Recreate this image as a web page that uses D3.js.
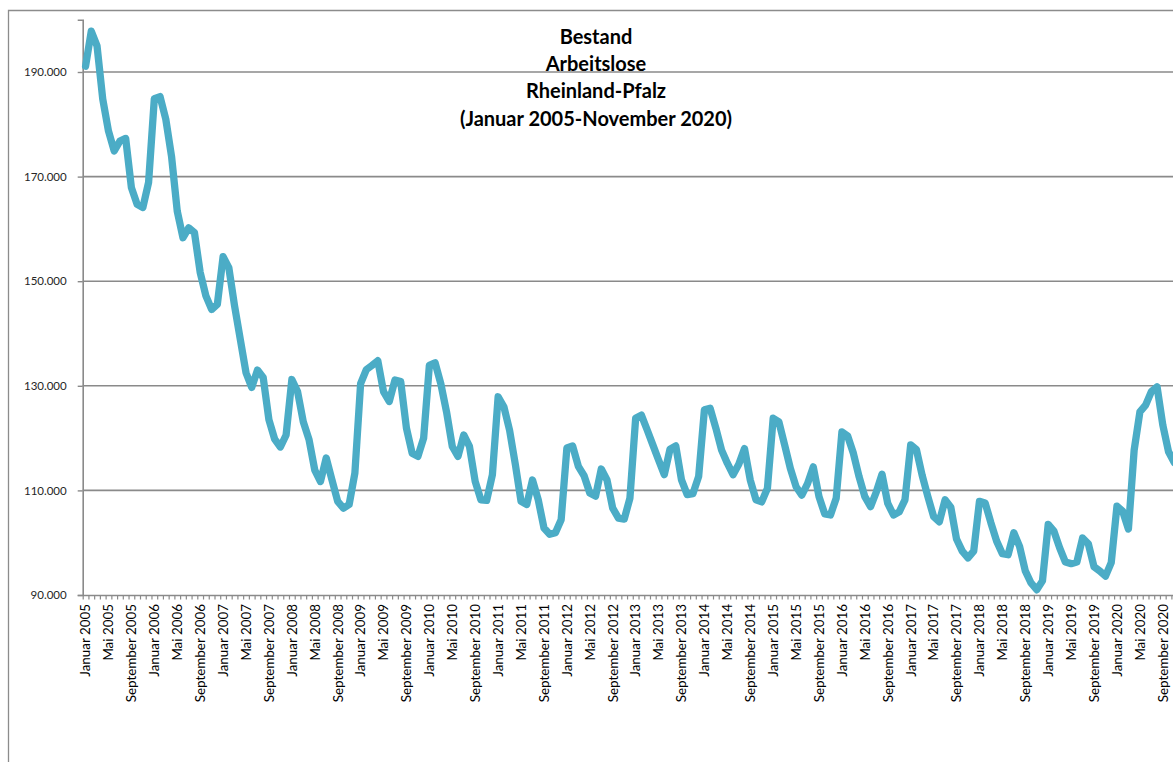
<!DOCTYPE html>
<html lang="de">
<head>
<meta charset="utf-8">
<title>Bestand Arbeitslose Rheinland-Pfalz</title>
<script src="https://cdn.jsdelivr.net/npm/d3@7"></script>
<style>
  html, body { margin: 0; padding: 0; background: #fff; }
  svg { display: block; }
</style>
</head>
<body>
<svg id="chart" width="1173" height="762"></svg>
<script>
// Monatsnamen und Jahre der Kategorienachse
const monatsnamen = ["Januar", "Februar", "März", "April", "Mai", "Juni",
  "Juli", "August", "September", "Oktober", "November", "Dezember"];
const jahre = [2005, 2006, 2007, 2008, 2009, 2010, 2011, 2012,
  2013, 2014, 2015, 2016, 2017, 2018, 2019, 2020];

// Bestand an Arbeitslosen je Monat (Januar 2005 – November 2020)
const bestand = [
  191100, 197800, 195000, 184800, 178700, 174900, 176800, 177300, 167900, 164700, 164100, 168900,
  184900, 185300, 181000, 173900, 163400, 158300, 160200, 159300, 151700, 147200, 144600, 145600,
  154700, 152600, 145300, 138900, 132500, 129700, 133000, 131600, 123500, 119800, 118300, 120600,
  131200, 128900, 123100, 119700, 113900, 111700, 116200, 112000, 107900, 106600, 107300, 113300,
  130400, 133100, 133900, 134800, 128900, 127000, 131100, 130800, 121900, 117100, 116500, 120000,
  133900, 134400, 130400, 125000, 118400, 116500, 120600, 118400, 111700, 108200, 108100, 113000,
  127900, 126000, 121500, 115000, 107900, 107300, 112000, 108200, 102800, 101600, 101900, 104400,
  118100, 118500, 114600, 112800, 109500, 108900, 114100, 112000, 106600, 104700, 104500, 108500,
  123800, 124400, 121600, 118700, 115800, 113000, 117900, 118500, 112000, 109200, 109400, 112700,
  125400, 125700, 121900, 117700, 115200, 113000, 115000, 118000, 112000, 108200, 107800, 110400,
  123800, 123100, 118700, 114200, 110700, 109100, 111300, 114500, 108800, 105500, 105300, 108500,
  121200, 120400, 117100, 112600, 108800, 106900, 109700, 113100, 107500, 105300, 105900, 108200,
  118700, 117800, 112900, 108800, 105000, 104000, 108200, 106800, 100700, 98400, 97100, 98400,
  107900, 107600, 103800, 100300, 97900, 97700, 101900, 99300, 94600, 92300, 91000, 92700,
  103500, 102200, 99000, 96300, 96000, 96300, 100900, 99800, 95400, 94600, 93600, 96200,
  107000, 106000, 102600, 117700, 125000, 126300, 128900, 129800, 122500, 117400, 115300
];

const yTicks = [90000, 110000, 130000, 150000, 170000, 190000];
const yDomain = [90000, 200000];

const titelZeilen = ["Bestand", "Arbeitslose", "Rheinland-Pfalz", "(Januar 2005-November 2020)"];

// Kategorien "Monat Jahr" in zeitlicher Reihenfolge
const kategorien = [];
jahre.forEach(j => monatsnamen.forEach(m => kategorien.push(m + " " + j)));
kategorien.length = bestand.length;

const svg = d3.select("#chart");
const W = 1173, H = 762;

// Zeichenfläche
const plot = { left: 82.7, top: 19.7, bottom: 595 };
plot.right = plot.left + 5.73 * kategorien.length;

const x = d3.scaleBand().domain(kategorien).range([plot.left, plot.right]).paddingInner(0).paddingOuter(0);
const y = d3.scaleLinear().domain(yDomain).range([plot.bottom, plot.top]);

const de = d3.formatLocale({ decimal: ",", thousands: ".", grouping: [3], currency: ["", " €"] });
const fmt = de.format(",");

const grau = "#8a8a8a";
const font = "Lato, 'Open Sans', sans-serif";

// Diagrammrahmen (oben und links)
svg.append("path")
  .attr("d", `M8.5,${H} V10.5 H${W}`)
  .attr("fill", "none").attr("stroke", "#8c8c8c").attr("stroke-width", 1.3);

// Horizontale Gitterlinien
svg.append("g")
  .selectAll("line")
  .data(yTicks.slice(1))
  .join("line")
  .attr("x1", plot.left).attr("x2", plot.right)
  .attr("y1", d => y(d)).attr("y2", d => y(d))
  .attr("stroke", grau).attr("stroke-width", 1.6);

// Y-Achse
const yAxis = svg.append("g")
  .attr("transform", `translate(${plot.left},0)`)
  .call(d3.axisLeft(y).tickValues(yTicks).tickFormat(fmt).tickSize(5).tickPadding(11));
yAxis.select(".domain").attr("stroke", grau).attr("stroke-width", 1.6);
yAxis.selectAll(".tick line").attr("stroke", grau).attr("stroke-width", 1.4);
yAxis.selectAll(".tick text")
  .attr("font-family", font).attr("font-size", "11.5px").attr("fill", "#262626");

// X-Achse: Teilstriche an den Kategoriegrenzen
const grenzen = d3.scaleLinear().domain([0, kategorien.length]).range([plot.left, plot.right]);
const xTicks = svg.append("g")
  .attr("transform", `translate(0,${plot.bottom})`)
  .call(d3.axisBottom(grenzen).tickValues(d3.range(0, kategorien.length + 1)).tickFormat("").tickSize(4.5).tickSizeOuter(0));
xTicks.select(".domain").attr("stroke", grau).attr("stroke-width", 1.6);
xTicks.selectAll(".tick line").attr("stroke", grau).attr("stroke-width", 1.2);

// X-Achse: Beschriftung jeder vierten Kategorie, senkrecht
const xAxis = svg.append("g")
  .attr("transform", `translate(0,${plot.bottom})`)
  .call(d3.axisBottom(x).tickValues(kategorien.filter((d, i) => i % 4 === 0)).tickSize(0).tickPadding(0));
xAxis.select(".domain").remove();
xAxis.selectAll(".tick text")
  .attr("font-family", font).attr("font-size", "13.4px").attr("fill", "#000")
  .attr("text-anchor", "end")
  .attr("transform", "rotate(-90)")
  .attr("x", -9).attr("y", 0).attr("dy", "0.36em");

// Verlaufslinie
const linie = d3.line()
  .x((d, i) => x(kategorien[i]) + x.bandwidth() / 2)
  .y(d => y(d));

svg.append("path")
  .datum(bestand)
  .attr("d", linie)
  .attr("fill", "none")
  .attr("stroke", "#4bacc6")
  .attr("stroke-width", 7.3)
  .attr("stroke-linejoin", "round")
  .attr("stroke-linecap", "round");

// Titel
svg.append("g")
  .selectAll("text")
  .data(titelZeilen)
  .join("text")
  .attr("x", 596)
  .attr("y", (d, i) => 44 + i * 27.2)
  .attr("text-anchor", "middle")
  .attr("font-family", font)
  .attr("font-weight", "bold")
  .attr("font-size", "20px")
  .attr("fill", "#000")
  .text(d => d);
</script>
</body>
</html>
